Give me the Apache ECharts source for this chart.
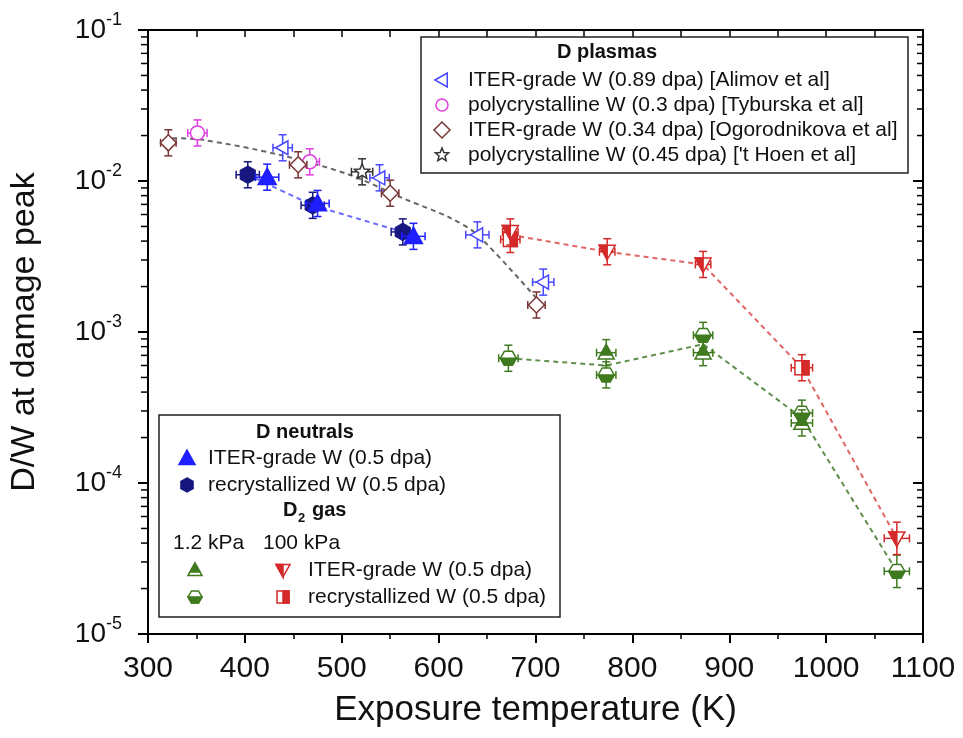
<!DOCTYPE html>
<html>
<head>
<meta charset="utf-8">
<script src="https://cdn.jsdelivr.net/npm/echarts@6/dist/echarts.min.js"></script>
<style>html,body{margin:0;padding:0;background:#fff}#c{width:963px;height:738px}</style>
</head>
<body>
<div id="c"></div>
<script>
// ---------- DATA ----------
// D plasmas
const alimovT = [439, 539, 640, 708];
const alimovV = [0.0166, 0.0105, 0.0044, 0.00214];
const alimovXE = [10, 10, 12, 11];
const alimovYE = [0.22, 0.22, 0.22, 0.22];

const tyburskaT = [351, 467];
const tyburskaV = [0.0208, 0.0134];
const tyburskaXE = [10, 10];
const tyburskaYE = [0.22, 0.22];

const ogoT = [321, 455, 550, 701];
const ogoV = [0.0179, 0.0128, 0.0083, 0.00151];
const ogoXE = [8, 9, 9, 9];
const ogoYE = [0.22, 0.22, 0.22, 0.22];

const hoenT = [521];
const hoenV = [0.0115];
const hoenXE = [11];
const hoenYE = [0.22];

// D neutrals
const neutItT = [423, 475, 574];
const neutItV = [0.0106, 0.0071, 0.0043];
const neutItXE = [12, 12, 12];
const neutItYE = [0.22, 0.22, 0.22];

const neutReT = [403, 470, 563];
const neutReV = [0.0110, 0.0069, 0.0046];
const neutReXE = [12, 12, 12];
const neutReYE = [0.22, 0.22, 0.22];

// D2 gas 1.2 kPa
const gasLowItT = [773, 873, 975];
const gasLowItV = [7.3e-4, 7.3e-4, 2.5e-4];
const gasLowItXE = [10, 10, 11];
const gasLowItYE = [0.22, 0.22, 0.22];

const gasLowReT = [672, 773, 873, 975, 1073];
const gasLowReV = [6.7e-4, 5.2e-4, 9.5e-4, 2.9e-4, 2.6e-5];
const gasLowReXE = [10, 10, 10, 11, 13];
const gasLowReYE = [0.22, 0.22, 0.22, 0.22, 0.28];

// D2 gas 100 kPa
const gasHiItT = [674, 774, 873, 1073];
const gasHiItV = [0.0046, 0.0034, 0.0028, 4.3e-5];
const gasHiItXE = [8, 8, 8, 13];
const gasHiItYE = [0.22, 0.22, 0.22, 0.28];

const gasHiReT = [674, 975];
const gasHiReV = [0.0041, 5.8e-4];
const gasHiReXE = [10, 11];
const gasHiReYE = [0.22, 0.22];

// dashed guide lines
const plasmaLineT = [325, 355, 436, 508, 565, 612, 640, 700];
const plasmaLineV = [0.0192, 0.0188, 0.0149, 0.0110, 0.0076, 0.0057, 0.0044, 0.0017];
const neutLineT = [403, 470, 563];
const neutLineV = [0.0110, 0.0069, 0.0046];
const gasHiLineT = [674, 774, 873, 975, 1073];
const gasHiLineV = [0.0044, 0.0034, 0.0028, 5.8e-4, 4.3e-5];
const gasLowLineT = [672, 773, 873, 975, 1073];
const gasLowLineV = [6.7e-4, 6.0e-4, 8.3e-4, 2.7e-4, 2.6e-5];

// axes
const xTicks = [300, 400, 500, 600, 700, 800, 900, 1000, 1100];
const yDecades = [1e-5, 1e-4, 1e-3, 1e-2];
const yMinorMult = [2, 3, 4, 5, 6, 7, 8, 9];

// ---------- styling ----------
const FONT = "'Liberation Sans', Arial, Helvetica, sans-serif";
const C = {
  alimov: '#4848ff', tyburska: '#e03ce0', ogo: '#7a3535', hoen: '#333333',
  neutIt: '#1e1eff', neutRe: '#17177f', green: '#3f7a1f', red: '#d42a2a'
};

function marker(kind, cx, cy, color, s) {
  const W = '#ffffff', lw = 1.5;
  const poly = (pts, fill) => ({type: 'polygon', shape: {points: pts},
    style: {fill: fill, stroke: color, lineWidth: lw}});
  switch (kind) {
    case 'ltri':
      return [poly([[cx - s, cy], [cx + s * 0.75, cy - s], [cx + s * 0.75, cy + s]], W)];
    case 'circle':
      return [{type: 'circle', shape: {cx: cx, cy: cy, r: s}, style: {fill: W, stroke: color, lineWidth: lw}}];
    case 'diamond':
      return [poly([[cx, cy - s], [cx + s, cy], [cx, cy + s], [cx - s, cy]], W)];
    case 'star': {
      const pts = [];
      for (let k = 0; k < 10; k++) {
        const r = k % 2 === 0 ? s : s * 0.45;
        const a = -Math.PI / 2 + k * Math.PI / 5;
        pts.push([cx + r * Math.cos(a), cy + r * Math.sin(a)]);
      }
      return [poly(pts, W)];
    }
    case 'tri':
      return [poly([[cx, cy - s], [cx + s, cy + s * 0.8], [cx - s, cy + s * 0.8]], color)];
    case 'hex': {
      const pts = [];
      for (let k = 0; k < 6; k++) {
        const a = -Math.PI / 2 + k * Math.PI / 3;
        pts.push([cx + s * Math.cos(a), cy + s * Math.sin(a)]);
      }
      return [poly(pts, color)];
    }
    case 'triHalf': {
      const top = cy - s, bot = cy + s * 0.8, yt = cy + s * 0.3;
      const f = (yt - top) / (bot - top);
      return [poly([[cx, top], [cx + s, bot], [cx - s, bot]], W),
              poly([[cx, top], [cx + s * f, yt], [cx - s * f, yt]], color)];
    }
    case 'hexHalf': {
      const h = s * 0.866;
      return [poly([[cx - s, cy], [cx - s / 2, cy - h], [cx + s / 2, cy - h], [cx + s, cy], [cx + s / 2, cy + h], [cx - s / 2, cy + h]], W),
              poly([[cx - s, cy], [cx + s, cy], [cx + s / 2, cy + h], [cx - s / 2, cy + h]], color)];
    }
    case 'dtriHalf': {
      const top = cy - s * 0.8, bot = cy + s;
      return [poly([[cx - s, top], [cx + s, top], [cx, bot]], W),
              poly([[cx - s, top], [cx, top], [cx, bot]], color)];
    }
    case 'sqHalf':
      return [poly([[cx - s, cy - s], [cx + s, cy - s], [cx + s, cy + s], [cx - s, cy + s]], W),
              poly([[cx, cy - s], [cx + s, cy - s], [cx + s, cy + s], [cx, cy + s]], color)];
  }
  return [];
}

function pointSeries(name, T, V, XE, YE, kind, color, size) {
  return {
    type: 'custom', name: name, clip: false, z: 5,
    encode: {x: 0, y: 1},
    data: T.map((t, i) => [t, V[i], XE[i], YE[i]]),
    renderItem: function (params, api) {
      const x = api.value(0), y = api.value(1), ex = api.value(2), ey = api.value(3);
      const c = api.coord([x, y]);
      const l = api.coord([x - ex, y]), r = api.coord([x + ex, y]);
      const t = api.coord([x, y * (1 + ey)]), b = api.coord([x, y / (1 + ey)]);
      const st = {stroke: color, lineWidth: 1.5};
      const cap = 4;
      const ln = (x1, y1, x2, y2) => ({type: 'line', shape: {x1: x1, y1: y1, x2: x2, y2: y2}, style: st});
      const ch = [
        ln(l[0], c[1], r[0], c[1]),
        ln(c[0], t[1], c[0], b[1]),
        ln(l[0], c[1] - cap, l[0], c[1] + cap),
        ln(r[0], c[1] - cap, r[0], c[1] + cap),
        ln(c[0] - cap, t[1], c[0] + cap, t[1]),
        ln(c[0] - cap, b[1], c[0] + cap, b[1])
      ];
      return {type: 'group', children: ch.concat(marker(kind, c[0], c[1], color, size))};
    }
  };
}

function lineSeries(T, V, color, smooth) {
  return {
    type: 'line', data: T.map((t, i) => [t, V[i]]), symbol: 'none', z: 2, smooth: smooth || false,
    lineStyle: {color: color, width: 2, type: [5, 4]}, silent: true
  };
}

// minor log ticks
const minorVals = [];
yDecades.forEach(d => yMinorMult.forEach(m => minorVals.push([300, d * m])));

const minorTickSeries = {
  type: 'custom', clip: false, z: 3, silent: true,
  encode: {x: 0, y: 1},
  data: minorVals,
  renderItem: function (params, api) {
    const v = api.value(1);
    const pl = api.coord([300, v]), pr = api.coord([1100, v]);
    const st = {stroke: '#000', lineWidth: 1.5};
    return {type: 'group', children: [
      {type: 'line', shape: {x1: pl[0] - 7, y1: pl[1], x2: pl[0], y2: pl[1]}, style: st},
      {type: 'line', shape: {x1: pr[0] - 6, y1: pr[1], x2: pr[0], y2: pr[1]}, style: st}
    ]};
  }
};

// ---------- legends (graphic) ----------
function txt(x, y, text, size, bold, align) {
  return {type: 'text', x: x, y: y, z: 100, style: {text: text, fontSize: size, fontFamily: FONT,
    fontWeight: bold ? 'bold' : 'normal', fill: '#111', align: align || 'left', verticalAlign: 'middle'}};
}
const LF = 21;
const G = [];
G.push({type: 'rect', shape: {x: 421, y: 37, width: 487, height: 136}, z: 90,
  style: {fill: '#fff', stroke: '#222', lineWidth: 1.5}});
G.push(txt(607, 52, 'D plasmas', 20, true, 'center'));
const leg1 = [
  ['ltri', C.alimov, 7, 'ITER-grade W (0.89 dpa) [Alimov et al]'],
  ['circle', C.tyburska, 6, 'polycrystalline W (0.3 dpa) [Tyburska et al]'],
  ['diamond', C.ogo, 8, 'ITER-grade W (0.34 dpa) [Ogorodnikova et al]'],
  ['star', C.hoen, 7, "polycrystalline W (0.45 dpa) ['t Hoen et al]"]
];
leg1.forEach((e, i) => {
  const y = 80 + i * 25;
  marker(e[0], 442, y, e[1], e[2]).forEach(m => { m.z = 100; G.push(m); });
  G.push(txt(468, y, e[3], LF, false));
});

G.push({type: 'rect', shape: {x: 159, y: 415, width: 401, height: 202}, z: 90,
  style: {fill: '#fff', stroke: '#222', lineWidth: 1.5}});
G.push(txt(305, 432, 'D neutrals', 20, true, 'center'));
[['tri', C.neutIt, 8, 'ITER-grade W (0.5 dpa)'], ['hex', C.neutRe, 7, 'recrystallized W (0.5 dpa)']].forEach((e, i) => {
  const y = 458 + i * 27;
  marker(e[0], 187, y, e[1], e[2]).forEach(m => { m.z = 100; G.push(m); });
  G.push(txt(208, y, e[3], LF, false));
});
G.push(txt(283, 510, 'D', 20, true, 'left'));
G.push(txt(298, 518, '2', 13, true, 'left'));
G.push(txt(312, 510, 'gas', 20, true, 'left'));
G.push(txt(173, 543, '1.2 kPa', LF, false));
G.push(txt(263, 543, '100 kPa', LF, false));
[['triHalf', C.green, 7], ['hexHalf', C.green, 7]].forEach((e, i) => {
  marker(e[0], 195, 570 + i * 27, e[1], e[2]).forEach(m => { m.z = 100; G.push(m); });
});
[['dtriHalf', C.red, 7], ['sqHalf', C.red, 6]].forEach((e, i) => {
  marker(e[0], 283, 570 + i * 27, e[1], e[2]).forEach(m => { m.z = 100; G.push(m); });
});
G.push(txt(308, 570, 'ITER-grade W (0.5 dpa)', LF, false));
G.push(txt(308, 597, 'recrystallized W (0.5 dpa)', LF, false));

// ---------- chart ----------
const axLine = {show: true, onZero: false, lineStyle: {color: '#000', width: 2}};
const option = {
  animation: false,
  backgroundColor: '#fff',
  textStyle: {fontFamily: FONT},
  grid: {left: 148, right: 40, top: 30, bottom: 104, containLabel: false, outerBoundsMode: 'none'},
  xAxis: [
    {type: 'value', position: 'bottom', min: 300, max: 1100, interval: 100,
     axisLine: axLine,
     axisTick: {show: true, length: 9, lineStyle: {color: '#000', width: 2}},
     minorTick: {show: true, splitNumber: 2, length: 5, lineStyle: {color: '#000', width: 1.5}},
     splitLine: {show: false},
     axisLabel: {fontSize: 30, color: '#111', margin: 20, fontFamily: FONT,
       formatter: v => (xTicks.indexOf(v) >= 0 ? String(v) : '')},
     name: 'Exposure temperature (K)', nameLocation: 'middle', nameGap: 59,
     nameTextStyle: {fontSize: 35, color: '#111', fontFamily: FONT}},
    {type: 'value', position: 'top', min: 300, max: 1100, interval: 50,
     axisLine: axLine,
     axisTick: {show: true, inside: true, length: 7, lineStyle: {color: '#000', width: 1.5}},
     axisLabel: {show: false}, splitLine: {show: false}}
  ],
  yAxis: [
    {type: 'log', logBase: 10, position: 'left', min: 1e-5, max: 1e-1,
     axisLine: axLine,
     axisTick: {show: true, length: 10, lineStyle: {color: '#000', width: 2}},
     splitLine: {show: false}, minorTick: {show: false},
     axisLabel: {margin: 26, color: '#111', fontFamily: FONT,
       formatter: v => '{b|10}{s|' + Math.round(Math.log10(v)) + '}',
       rich: {b: {fontSize: 28, lineHeight: 38, fontFamily: FONT, color: '#111'},
              s: {fontSize: 18, lineHeight: 18, verticalAlign: 'top', fontFamily: FONT, color: '#111'}}},
     name: 'D/W at damage peak', nameLocation: 'middle', nameRotate: 90, nameGap: 106,
     nameTextStyle: {fontSize: 34, color: '#111', fontFamily: FONT}},
    {type: 'log', logBase: 10, position: 'right', min: 1e-5, max: 1e-1,
     axisLine: axLine,
     axisTick: {show: true, inside: true, length: 10, lineStyle: {color: '#000', width: 2}},
     axisLabel: {show: false}, splitLine: {show: false}}
  ],
  series: [
    minorTickSeries,
    lineSeries(plasmaLineT, plasmaLineV, '#666666', 0.3),
    lineSeries(neutLineT, neutLineV, '#6a6aff'),
    lineSeries(gasHiLineT, gasHiLineV, '#e06464'),
    lineSeries(gasLowLineT, gasLowLineV, '#5f8f4a'),
    pointSeries('Alimov', alimovT, alimovV, alimovXE, alimovYE, 'ltri', C.alimov, 7),
    pointSeries('Tyburska', tyburskaT, tyburskaV, tyburskaXE, tyburskaYE, 'circle', C.tyburska, 7),
    pointSeries('Ogorodnikova', ogoT, ogoV, ogoXE, ogoYE, 'diamond', C.ogo, 8),
    pointSeries('Hoen', hoenT, hoenV, hoenXE, hoenYE, 'star', C.hoen, 8),
    pointSeries('neutRe', neutReT, neutReV, neutReXE, neutReYE, 'hex', C.neutRe, 8.5),
    pointSeries('neutIt', neutItT, neutItV, neutItXE, neutItYE, 'tri', C.neutIt, 9),
    pointSeries('gasLowRe', gasLowReT, gasLowReV, gasLowReXE, gasLowReYE, 'hexHalf', C.green, 8),
    pointSeries('gasLowIt', gasLowItT, gasLowItV, gasLowItXE, gasLowItYE, 'triHalf', C.green, 8),
    pointSeries('gasHiRe', gasHiReT, gasHiReV, gasHiReXE, gasHiReYE, 'sqHalf', C.red, 7),
    pointSeries('gasHiIt', gasHiItT, gasHiItV, gasHiItXE, gasHiItYE, 'dtriHalf', C.red, 8)
  ],
  graphic: G
};
const chart = echarts.init(document.getElementById('c'), null, {renderer: 'canvas', devicePixelRatio: 1});
chart.setOption(option);
</script>
</body>
</html>
